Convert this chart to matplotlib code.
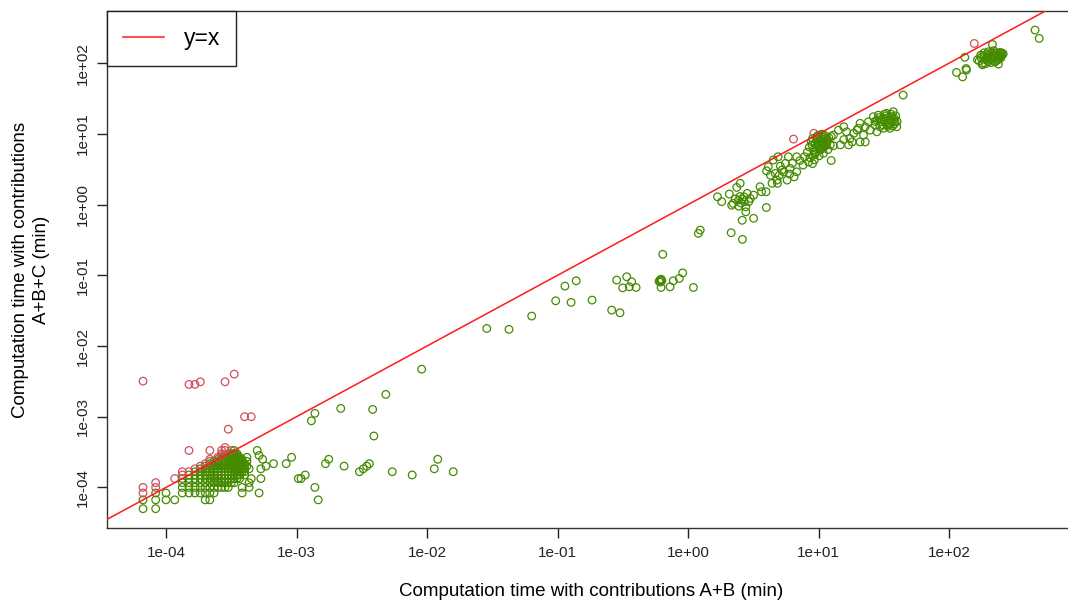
import numpy as np
import matplotlib.pyplot as plt

plt.rcParams['font.family'] = ['Liberation Sans', 'DejaVu Sans']

MS_PER_MIN = 60000.0

# lower-left cluster, timings in ms: one row per A+B+C value, listing the A+B values
grid_y_ms = [3, 4, 5, 6, 7, 8, 9, 10, 11, 12, 13, 14, 15, 16, 17, 18, 20, 22]
grid_x_ms = [
    [4, 5],
    [4, 5, 6, 7, 12, 13],
    [4, 5, 6, 8, 9, 10, 11, 12, 13, 14, 23, 31],
    [4, 5, 8, 9, 10, 11, 12, 13, 14, 15, 16, 17, 18, 23, 26],
    [5, 8, 9, 10, 11, 12, 13, 14, 15, 16, 17, 18, 19, 20, 26],
    [7, 8, 9, 10, 11, 12, 13, 14, 15, 16, 17, 18, 19, 20, 21, 22, 27, 32],
    [8, 9, 10, 11, 12, 13, 14, 15, 16, 17, 18, 19, 20, 21, 22, 24],
    [8, 9, 10, 11, 12, 13, 14, 15, 16, 17, 18, 19, 20, 21, 22, 23, 24],
    [10, 11, 12, 13, 14, 15, 16, 17, 18, 19, 20, 21, 22, 23, 24, 26, 32],
    [11, 12, 13, 14, 15, 16, 17, 18, 19, 20, 21, 22, 23, 24, 25, 35],
    [12, 13, 14, 15, 16, 17, 18, 19, 20, 21, 22, 23, 24, 40],
    [13, 14, 15, 16, 17, 18, 19, 20, 21, 22, 23, 25],
    [13, 15, 16, 17, 18, 19, 20, 21, 22, 23, 33],
    [15, 16, 17, 18, 19, 20, 21, 22, 25],
    [16, 17, 18, 19, 20, 21, 31],
    [16, 18, 19, 20, 21],
    [9, 13, 16, 17, 19, 20, 30],
    [17],
]

# scattered small runs (ms)
low_x_ms = [4, 9, 10, 11, 17, 20, 18, 24, 27, 50, 55, 62, 65, 70, 83, 88, 78, 83,
            100, 106, 131, 139, 182, 195, 207, 217, 230, 235, 290, 325, 462, 546,
            682, 725, 953]
low_y_ms = [191, 172, 172, 187, 187, 240, 40, 60, 60, 13, 16, 8, 8, 9, 6, 4, 52.5, 67,
            13, 15, 78.6, 12, 10, 11, 12, 13, 76, 32, 124, 10, 9, 282,
            11, 15, 10]

# the rest in minutes
mid_x = [0.0287, 0.0425, 0.0634, 0.0968, 0.114, 0.127, 0.139, 0.184, 0.260, 0.301,
         0.284, 0.339, 0.370, 0.316, 0.355, 0.400, 0.640, 0.600, 0.612, 0.622,
         0.630, 0.615, 0.621, 0.728, 0.771, 0.857, 0.910, 1.10, 1.20, 1.24]
mid_y = [0.0177, 0.0172, 0.0265, 0.0436, 0.0703, 0.0414, 0.0836, 0.0446, 0.0322, 0.0295,
         0.0855, 0.0953, 0.0809, 0.0665, 0.0687, 0.0673, 0.198, 0.082, 0.086, 0.088,
         0.084, 0.080, 0.0673, 0.0687, 0.0836, 0.0903, 0.108, 0.0673, 0.392, 0.436]

c1_x = [1.68, 1.81, 2.07, 2.36, 2.51, 2.22, 2.16, 2.44, 2.68, 2.84,
        3.00, 2.92, 2.77, 3.18, 3.56, 3.66, 3.96, 2.77, 2.60, 3.18,
        3.98, 2.14, 2.61, 2.30, 2.55, 2.62, 2.50, 2.70, 2.45, 4.12,
        4.50, 4.90, 4.66, 4.40, 4.80, 5.25, 5.57, 5.87, 6.06, 5.74,
        6.50, 6.30, 6.80, 6.80, 7.60, 7.80, 4.85, 4.28, 5.00, 5.40,
        6.00, 5.10, 4.00, 7.20, 6.43]
c1_y = [1.29, 1.10, 1.41, 1.75, 2.00, 1.04, 0.98, 1.16, 1.29, 1.44,
        1.22, 1.10, 0.93, 1.36, 1.79, 1.52, 1.52, 0.79, 0.60, 0.64,
        0.91, 0.40, 0.322, 1.20, 1.05, 1.20, 1.30, 1.10, 0.95, 3.43,
        4.27, 4.75, 2.76, 2.00, 2.22, 3.08, 3.83, 4.75, 3.25, 2.22,
        2.47, 3.83, 4.75, 2.91, 3.62, 4.75, 2.00, 2.60, 2.60, 2.90,
        2.70, 3.50, 3.00, 4.20, 8.45]

c10_x = [8.2, 8.5, 8.8, 9.0, 9.2, 9.4, 9.6, 9.8, 10.0, 10.2,
         10.4, 10.6, 10.8, 11.0, 11.3, 11.6, 12.0, 12.5, 9.1, 9.5,
         9.9, 10.3, 10.7, 11.1, 11.5, 8.6, 9.3, 10.1, 10.9, 11.8,
         12.3, 9.7, 10.5, 11.2, 8.9, 9.0, 9.4, 10.0, 10.6, 11.4,
         8.4, 12.5, 13.0, 9.2, 10.8]
c10_y = [5.5, 6.5, 7.8, 8.6, 6.0, 7.2, 8.9, 9.3, 9.6, 8.0,
         7.0, 6.2, 8.4, 9.0, 7.6, 8.2, 8.8, 9.2, 5.0, 5.6,
         6.8, 5.9, 7.4, 6.6, 7.1, 4.6, 4.3, 4.9, 5.3, 6.0,
         7.0, 8.0, 8.6, 9.5, 7.0, 3.8, 5.2, 6.3, 9.9, 8.6,
         4.0, 4.2, 6.8, 10.2, 6.4]

c30_x = [13.0, 14.2, 15.6, 16.4, 17.4, 18.6, 20.2, 20.8, 22.1, 22.8,
         24.1, 24.9, 26.3, 27.1, 28.7, 29.5, 31.4, 33.3, 34.3, 36.4,
         37.4, 38.6, 39.7, 35.3, 31.4, 29.5, 33.3, 28.0, 20.8, 17.0,
         22.8, 15.6, 19.7, 18.1, 14.7, 27, 30, 32, 34, 36,
         38, 31, 33, 35, 37, 29, 34, 36, 39, 28,
         32, 40, 38, 44.5]
c30_y = [9.6, 11.3, 12.6, 10.7, 8.6, 10.2, 12.0, 14.1, 9.6, 12.6,
         14.8, 11.3, 17.5, 13.3, 18.4, 14.8, 16.6, 19.5, 14.1, 17.5,
         20.6, 14.8, 12.6, 12.0, 12.0, 12.6, 13.3, 10.7, 7.7, 7.0,
         7.7, 8.3, 11.3, 7.7, 7.0, 15, 16, 15, 17, 15.5,
         16.5, 13.5, 18, 14, 13, 17, 12.8, 19, 18, 15.5,
         19, 15, 13.8, 35.4]

c100_x = [156, 215, 132, 114, 127, 136, 135, 239, 456, 490,
          170, 175, 180, 185, 190, 195, 200, 205, 210, 215,
          220, 225, 230, 235, 240, 245, 250, 255, 260, 180,
          190, 200, 210, 220, 230, 240, 250, 185, 195, 205,
          215, 225, 235, 245, 175, 200, 222, 238, 252, 165]
c100_y = [190, 184, 121, 74, 64, 80, 84, 97, 294, 224,
          108, 120, 100, 128, 112, 135, 105, 122, 140, 110,
          130, 118, 138, 125, 115, 142, 128, 132, 136, 95,
          98, 145, 102, 150, 108, 130, 120, 140, 114, 116,
          126, 104, 132, 122, 130, 128, 140, 112, 140, 112]

tick_vals = [1e-4, 1e-3, 1e-2, 1e-1, 1e0, 1e1, 1e2]
tick_labels = ['1e-04', '1e-03', '1e-02', '1e-01', '1e+00', '1e+01', '1e+02']

# collect everything (ms -> min)
gx, gy = [], []
for yv, row in zip(grid_y_ms, grid_x_ms):
    gx += row
    gy += [yv] * len(row)
x = np.concatenate([np.array(gx) / MS_PER_MIN, np.array(low_x_ms) / MS_PER_MIN,
                    mid_x, c1_x, c10_x, c30_x, c100_x])
y = np.concatenate([np.array(gy) / MS_PER_MIN, np.array(low_y_ms) / MS_PER_MIN,
                    mid_y, c1_y, c10_y, c30_y, c100_y])
cols = np.where(y > x, '#d0505a', '#458b00')

fig = plt.figure(figsize=(10.68, 6.06), dpi=100)
ax = fig.add_axes([107 / 1068, 1 - 528 / 606, (1075 - 107) / 1068, (528 - 11) / 606])

ax.scatter(x, y, s=30, facecolors='none', edgecolors=cols, linewidths=0.9, zorder=2)
ax.axline((1e-4, 1e-4), (1e2, 1e2), color='#ff1a1a', lw=1.1, zorder=3, label='y=x')

ax.set_xscale('log')
ax.set_yscale('log')
ax.set_xlim(10 ** -4.452, 10 ** 2.965)
ax.set_ylim(10 ** -4.574, 10 ** 2.738)
ax.minorticks_off()
ax.set_xticks(tick_vals)
ax.set_xticklabels(tick_labels)
ax.set_yticks(tick_vals)
ax.set_yticklabels(tick_labels, rotation=90, va='center')
ax.tick_params(axis='both', direction='out', length=7, width=1, labelsize=11, colors='#222222')
ax.tick_params(axis='x', pad=6)
ax.tick_params(axis='y', pad=5)
for s in ax.spines.values():
    s.set_color('#333333')
    s.set_linewidth(1)

leg = ax.legend(loc='upper left', bbox_to_anchor=(0, 1), borderaxespad=0, fontsize=16.5,
                fancybox=False, framealpha=1, edgecolor='#222222', borderpad=0.7,
                handlelength=1.8, handletextpad=0.85)
leg.get_frame().set_linewidth(1)

fig.text(591 / 1068, 1 - 591 / 606, 'Computation time with contributions A+B (min)',
         ha='center', va='center', fontsize=13.5)
fig.text(31 / 1068, 1 - 269.5 / 606, 'Computation time with contributions\nA+B+C (min)',
         ha='center', va='center', rotation=90, fontsize=13.5, linespacing=1.35)

fig.savefig('out.png', dpi=100)
